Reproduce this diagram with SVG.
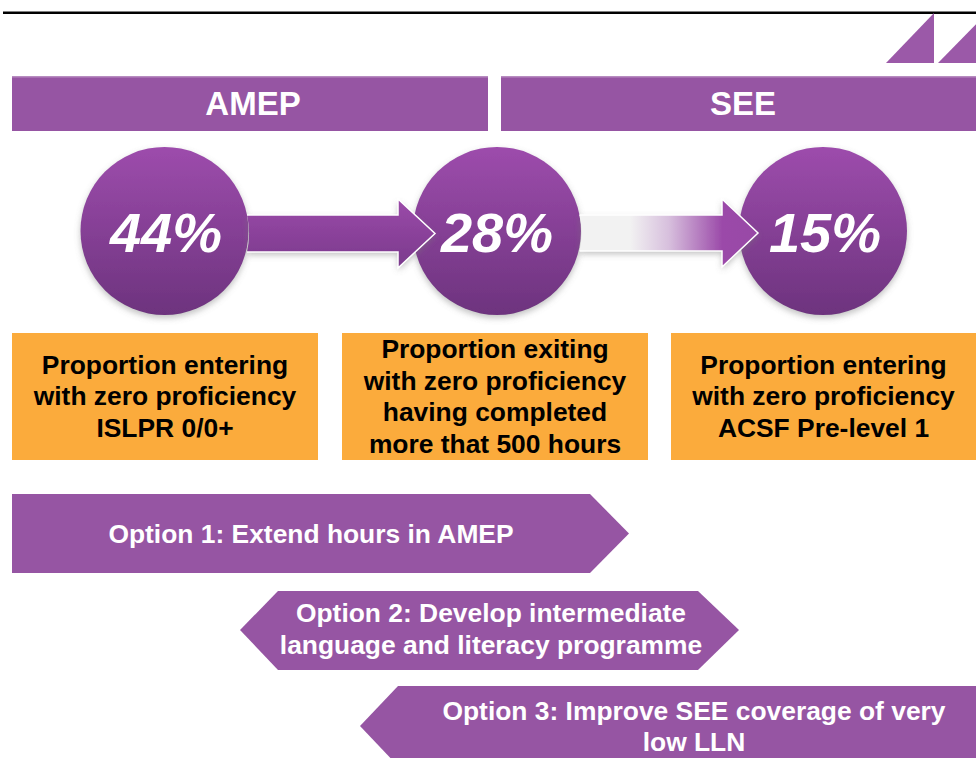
<svg xmlns="http://www.w3.org/2000/svg" width="976" height="758" viewBox="0 0 976 758">
<defs>
<style>
.t{font-family:"Liberation Sans",Arial,sans-serif;font-weight:bold;text-anchor:middle}
.hdr{fill:#ffffff;font-size:33px}
.pct{fill:#ffffff;font-size:56px;font-style:italic}
.box{fill:#000000;font-size:26.4px}
.opt{fill:#ffffff;font-size:26.4px}
.bar{fill:#9655a3}
.obox{fill:#fbab3c}
</style>
<linearGradient id="gc" x1="0" y1="0" x2="0" y2="1">
<stop offset="0" stop-color="#9d4cac"/>
<stop offset="1" stop-color="#6d337e"/>
</linearGradient>
<linearGradient id="ga1" x1="0" y1="199" x2="0" y2="268" gradientUnits="userSpaceOnUse">
<stop offset="0" stop-color="#9b4aa9"/>
<stop offset="1" stop-color="#7a3a8c"/>
</linearGradient>
<linearGradient id="ga2" x1="580" y1="0" x2="758" y2="0" gradientUnits="userSpaceOnUse">
<stop offset="0" stop-color="#f2f2f2"/>
<stop offset="0.28" stop-color="#f2f2f2"/>
<stop offset="0.5" stop-color="#d7bfdd"/>
<stop offset="0.8" stop-color="#9b4aa9"/>
<stop offset="1" stop-color="#9848a6"/>
</linearGradient>
<filter id="sh" x="-20%" y="-20%" width="140%" height="140%">
<feDropShadow dx="0" dy="3" stdDeviation="3" flood-color="#777777" flood-opacity="0.45"/>
</filter>
</defs>
<rect x="0" y="0" width="976" height="758" fill="#ffffff"/>
<rect x="3" y="11.5" width="973" height="2.5" fill="#000000"/>
<g id="deco">
<polygon points="886,63 934,13 934,63" fill="#9b59a8"/>
<polygon points="938,63 987,13 987,63" fill="#9b59a8"/>
</g>
<g id="amep">
<rect class="bar" x="12" y="76" width="476" height="55"/>
<rect x="12" y="76" width="476" height="1.5" fill="#b78cc0"/>
<text class="t hdr" x="253" y="114.5">AMEP</text>
</g>
<g id="see">
<rect class="bar" x="501" y="76" width="475" height="55"/>
<rect x="501" y="76" width="475" height="1.5" fill="#b78cc0"/>
<text class="t hdr" x="743" y="114.5">SEE</text>
</g>
<g id="c15">
<circle cx="823" cy="231" r="84" fill="url(#gc)" filter="url(#sh)"/>
<text class="t pct" x="825" y="252">15%</text>
</g>
<g id="c28">
<circle cx="497" cy="231" r="84" fill="url(#gc)" filter="url(#sh)"/>
<text class="t pct" x="497" y="252">28%</text>
</g>
<g id="c44">
<circle cx="164.5" cy="231" r="84" fill="url(#gc)" filter="url(#sh)"/>
<text class="t pct" x="166" y="252">44%</text>
</g>
<g id="connectors">
<path d="M247,215 L398,215 L398,199 L435,233.5 L398,268 L398,252 L247,252 A84 84 0 0 0 247,215 Z" fill="url(#ga1)" filter="url(#sh)"/>
<polyline points="247,215 398,215 398,199 435,233.5 398,268 398,252 247,252" fill="none" stroke="#ffffff" stroke-width="1.5" stroke-linejoin="miter"/>
<path d="M579.5,215 L722,215 L722,199 L758,233 L722,267 L722,251 L579.5,251 A84 84 0 0 0 579.5,215 Z" fill="url(#ga2)" filter="url(#sh)"/>
<polyline points="579.5,215 722,215 722,199 758,233 722,267 722,251 579.5,251" fill="none" stroke="#ffffff" stroke-width="1.5"/>
</g>
<g id="box1">
<rect class="obox" x="12" y="333" width="306" height="127"/>
<text class="t box" x="165" y="374">Proportion entering</text>
<text class="t box" x="165" y="405">with zero proficiency</text>
<text class="t box" x="165" y="437">ISLPR 0/0+</text>
</g>
<g id="box2">
<rect class="obox" x="342" y="333" width="306" height="127"/>
<text class="t box" x="495" y="358">Proportion exiting</text>
<text class="t box" x="495" y="390">with zero proficiency</text>
<text class="t box" x="495" y="421">having completed</text>
<text class="t box" x="495" y="453">more that 500 hours</text>
</g>
<g id="box3">
<rect class="obox" x="671" y="333" width="305" height="127"/>
<text class="t box" x="823.5" y="374">Proportion entering</text>
<text class="t box" x="823.5" y="405">with zero proficiency</text>
<text class="t box" x="823.5" y="437">ACSF Pre-level 1</text>
</g>
<g id="opt1">
<polygon class="bar" points="12,494 590,494 629,533.5 590,573 12,573"/>
<text class="t opt" x="311" y="543">Option 1: Extend hours in AMEP</text>
</g>
<g id="opt2">
<polygon class="bar" points="240,630 278,591 698,591 739,630 698,670 278,670"/>
<text class="t opt" x="491" y="622">Option 2: Develop intermediate</text>
<text class="t opt" x="491" y="654">language and literacy programme</text>
</g>
<g id="opt3">
<polygon class="bar" points="360,726 398,686 976,686 976,766 398,766"/>
<text class="t opt" x="694" y="720">Option 3: Improve SEE coverage of very</text>
<text class="t opt" x="694" y="751">low LLN</text>
</g>
</svg>
